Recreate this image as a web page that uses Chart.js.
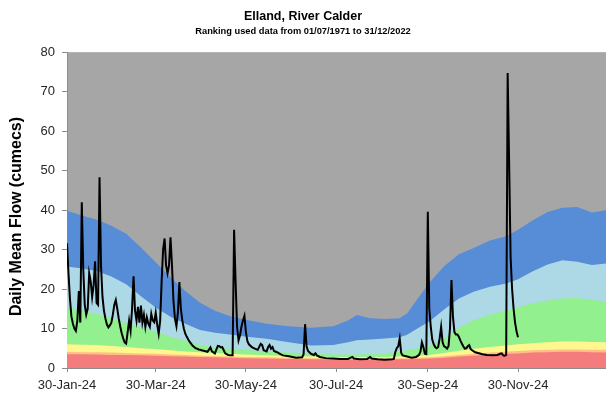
<!DOCTYPE html>
<html>
<head>
<meta charset="utf-8">
<script src="https://cdn.jsdelivr.net/npm/chart.js@4/dist/chart.umd.min.js"></script>
<style>
  html, body { margin: 0; padding: 0; background: #fff; overflow: hidden; }
  #wrap { width: 606px; height: 396px; position: relative; }
</style>
</head>
<body>
<div id="wrap"><canvas id="c" width="606" height="396"></canvas></div>
<script>
// Days counted from 30-Jan-24
const tickDays   = [0, 60, 121, 182, 244, 305];
const tickLabels = ['30-Jan-24', '30-Mar-24', '30-May-24', '30-Jul-24', '30-Sep-24', '30-Nov-24'];

// Daily mean flow at Elland (cumecs)
const flowDays = [
  0,1,2,3,4,5,6,7,8,9,10,11,12,13,14,15,16,17,18,19,20,21,22,23,24,25,26,27,28,29,
  30,31,32,33,34,35,36,37,38,39,40,41,42,43,44,45,46,47,48,49,50,51,52,53,54,55,56,57,58,59,
  60,61,62,63,64,65,66,67,68,69,70,71,72,73,74,75,76,77,78,79,80,81,82,83,84,85,86,87,88,89,90,
  91,93,95,97,98,100,102,103,104,105,106,107,109,111,112,113,114,115,116,117,118,119,120,121,122,123,125,127,129,
  131,132,133,135,136,137,138,139,140,142,144,146,150,155,159,160,161,162,163,165,167,168,169,171,175,
  180,185,190,193,194,198,203,205,206,210,215,220,221,222,223,224,225,226,227,230,233,236,238,239,240,241,242,243,
  244,245,246,247,248,249,250,251,252,253,254,255,256,257,258,259,260,261,262,263,264,265,266,267,268,269,
  270,271,272,273,274,276,278,281,284,288,291,293,294,295,296,297,298,299,300,301,302,303,304,305
];
const flowValues = [
  31.6,24,17.5,13,11.2,10,9.4,12,19.5,11.5,42,25,16,13.5,15,24,22,18,21,27,16.5,16,48.3,26,18,14.5,12.5,11,10.3,10.8,
  11.5,13.5,16,17.2,15,12.5,10.5,8.8,7.5,6.5,6.2,9,12,9.5,15,23.2,14.5,12,15.5,11.5,15.8,11.5,13.5,10.4,12.8,11.2,10.4,13.7,12,11.6,
  14,11,8.7,12,22,30,32.8,26,24,26,33.1,26,17,12.5,10.6,14,21.8,15,12,10,8.7,7.9,7.2,6.6,6.1,5.6,5.3,5,4.9,4.7,4.6,
  4.5,4.3,4.1,5.2,4.2,3.7,5.6,5.5,5.2,5.3,4.5,3.7,3.3,3.2,3.2,35,22,10.5,7,8.3,10.5,12,13.2,9,6.8,6,5.3,4.9,4.6,
  6.1,5.8,4.5,4.2,5.3,5.8,4.9,5.3,4.3,4,3.6,3.2,3,2.6,2.7,3.5,11.1,5.5,4.3,3.6,3.3,3.7,3.2,2.8,2.5,
  2.4,2.3,2.3,2.8,2.4,2.2,2.3,2.8,2.4,2.2,2.1,2.2,2.3,4,5,5.5,7.5,3.8,3.2,2.9,2.6,2.8,3.3,4.1,6.5,5.3,3.6,3.5,
  39.6,15,10.5,7.2,6,5.3,5,5.3,7.5,10.4,6.5,5.5,5.3,4.9,5.5,10,22.3,13,9.1,8.5,8.5,7.9,7,6.2,5.5,4.9,
  5,5.5,5.8,4.8,4.5,4,3.8,3.5,3.3,3.2,3.3,3.6,3.7,3.2,3.1,3.3,74.7,52,28,20,15,11.5,9.3,7.8
];

// Upper bounds of the flow ranking bands (cumecs)
const bandDays = [
  0,10,20,30,40,50,60,70,80,90,100,110,120,135,150,165,180,190,196,205,
  215,225,230,237,245,255,265,275,286,297,305,315,325,335,345,355,365
];
const exceptLowTop = [
  3.5,3.5,3.4,3.3,3.3,3.2,3.1,3.0,2.9,2.8,2.7,2.6,2.5,2.4,2.3,2.2,2.2,2.1,2.1,2.1,
  2.1,2.2,2.2,2.3,2.4,2.6,2.9,3.1,3.4,3.6,3.7,3.9,4.0,4.1,4.1,4.0,3.9
];
const notablyLowTop = [
  4.1,4.0,4.0,3.9,3.8,3.7,3.6,3.4,3.3,3.1,3.0,2.9,2.8,2.7,2.6,2.5,2.5,2.4,2.4,2.4,
  2.4,2.5,2.5,2.6,2.7,3.0,3.3,3.6,3.9,4.1,4.3,4.5,4.6,4.7,4.7,4.6,4.6
];
const belowNormalTop = [
  6.0,5.9,5.8,5.6,5.3,5.0,4.8,4.5,4.2,4.0,3.8,3.6,3.4,3.2,3.0,2.9,2.8,2.8,2.8,2.8,
  2.8,2.9,3.0,3.1,3.3,3.8,4.4,4.9,5.3,5.7,6.0,6.3,6.5,6.7,6.7,6.6,6.5
];
const normalTop = [
  15.5,14.6,13.7,12.7,11.4,10.3,9.1,8.0,6.9,5.8,5.2,4.9,4.6,4.2,3.9,3.6,3.4,3.4,3.4,3.5,
  3.6,4.2,4.5,5.0,5.5,7.4,10.2,12.1,13.4,14.6,15.4,16.4,17.1,17.6,17.7,17.2,16.8
];
const aboveNormalTop = [
  25.7,25.2,24.6,23.2,21.2,18.2,15.3,13.0,11.2,9.6,8.9,8.5,8.0,7.4,6.5,5.7,5.8,6.5,7.0,7.2,
  7.5,7.8,8.4,10.0,11.8,14.8,17.6,19.3,20.6,21.4,22.5,24.5,26.2,27.3,26.9,26.1,26.5
];
const notablyHighTop = [
  39.8,38.6,37.6,36.0,34.0,30.5,26.8,23.0,19.5,16.5,14.5,13.2,12.3,11.2,10.6,10.2,10.6,12.0,13.4,12.6,
  12.4,12.6,13.8,17.5,21.6,25.8,28.8,30.4,32.3,33.4,35.0,37.4,39.5,40.6,40.8,39.4,40.0
];

const FONT = "'Liberation Sans', Arial, sans-serif";
const Y_TITLE = 'Daily Mean Flow (cumecs)';

const pts = (xs, ys) => xs.map((x, i) => ({ x: x, y: ys[i] }));

function band(values, color) {
  return {
    data: pts(bandDays, values),
    borderWidth: 0,
    pointRadius: 0,
    backgroundColor: color,
    fill: 'origin',
    tension: 0
  };
}

// Grey plot background (exceptionally high region)
const plotBackground = {
  id: 'plotBackground',
  beforeDraw(chart) {
    const a = chart.chartArea;
    const ctx = chart.ctx;
    ctx.save();
    ctx.fillStyle = '#a6a6a6';
    ctx.fillRect(a.left, a.top, a.right - a.left, a.bottom - a.top);
    ctx.restore();
  }
};

// Vertical axis title, placed a little below the axis midpoint
const yAxisTitle = {
  id: 'yAxisTitle',
  afterDraw(chart) {
    const ctx = chart.ctx;
    ctx.save();
    ctx.translate(16.5, 216.5);
    ctx.rotate(-Math.PI / 2);
    ctx.font = 'bold 16px ' + FONT;
    ctx.fillStyle = '#000';
    ctx.textAlign = 'center';
    ctx.textBaseline = 'middle';
    ctx.fillText(Y_TITLE, 0, 0);
    ctx.restore();
  }
};

new Chart(document.getElementById('c'), {
  type: 'line',
  data: {
    datasets: [
      {
        data: pts(flowDays, flowValues),
        borderColor: '#000000',
        borderWidth: 2,
        pointRadius: 0,
        fill: false,
        tension: 0
      },
      band(exceptLowTop, '#f47c7c'),
      band(notablyLowTop, '#ffbf86'),
      band(belowNormalTop, '#fdf78e'),
      band(normalTop, '#93f08e'),
      band(aboveNormalTop, '#add8e6'),
      band(notablyHighTop, '#578dd6')
    ]
  },
  options: {
    responsive: false,
    animation: false,
    events: [],
    layout: { padding: 0 },
    plugins: {
      legend: { display: false },
      tooltip: { enabled: false },
      title: {
        display: true,
        text: 'Elland, River Calder',
        color: '#000',
        font: { family: FONT, size: 12.5, weight: 'bold' },
        padding: { top: 9.5, bottom: 0 }
      },
      subtitle: {
        display: true,
        text: 'Ranking used data from 01/07/1971 to 31/12/2022',
        color: '#000',
        font: { family: FONT, size: 9.3, weight: 'bold' },
        padding: { top: 1, bottom: 15.5 }
      }
    },
    scales: {
      x: {
        type: 'linear',
        min: 0,
        max: 364.5,
        afterBuildTicks(axis) {
          axis.ticks = tickDays.map(v => ({ value: v }));
        },
        afterFit(scale) { scale.height = 28; },
        ticks: {
          autoSkip: false,
          maxRotation: 0,
          padding: 5.5,
          color: '#262626',
          font: { family: FONT, size: 13 },
          callback: (v, i) => tickLabels[i]
        },
        grid: { drawOnChartArea: false, tickLength: 4, color: '#8c8c8c' },
        border: { color: '#8c8c8c' }
      },
      y: {
        min: 0,
        max: 80,
        afterFit(scale) { scale.width = 67; },
        ticks: {
          stepSize: 10,
          padding: 7,
          color: '#262626',
          font: { family: FONT, size: 13 }
        },
        grid: { drawOnChartArea: false, tickLength: 5, color: '#8c8c8c' },
        border: { color: '#8c8c8c' },
        title: { display: false }
      }
    }
  },
  plugins: [plotBackground, yAxisTitle]
});
</script>
</body>
</html>
